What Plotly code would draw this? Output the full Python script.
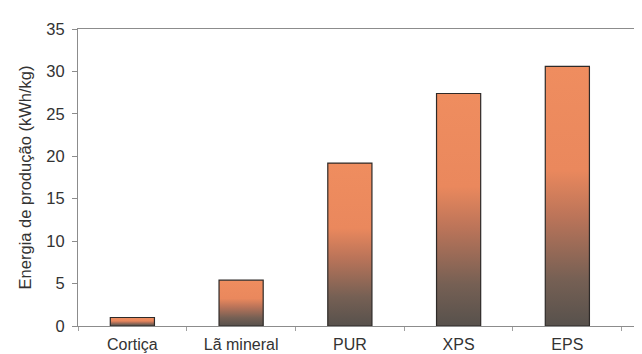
import plotly.graph_objects as go

categories = ["Cortiça", "Lã mineral", "PUR", "XPS", "EPS"]
values = [1.0, 5.4, 19.2, 27.4, 30.6]
y_ticks = [0, 5, 10, 15, 20, 25, 30, 35]
y_title = "Energia de produção (kWh/kg)"

half_w = 0.203
gradient = [
    [0.0, "#57514c"],
    [0.18, "#766054"],
    [0.42, "#bb7459"],
    [0.6, "#ea885d"],
    [1.0, "#ef8d5f"],
]

fig = go.Figure()
for i, (cat, v) in enumerate(zip(categories, values)):
    xs = [i - half_w, i + half_w, i + half_w, i - half_w, i - half_w]
    ys = [0, 0, v, v, 0]
    fig.add_trace(go.Scatter(
        x=xs, y=ys, mode="lines", fill="toself",
        fillgradient=dict(type="vertical", colorscale=gradient),
        line=dict(color="#2e2a28", width=1.2),
        name=cat, showlegend=False, hoverinfo="skip",
    ))

family = "Liberation Sans, Arial, sans-serif"
tick_font = dict(family=family, size=16.5, color="#333333")
cat_font = dict(family=family, size=16, color="#333333")
title_font = dict(family=family, size=16.5, color="#333333")

fig.update_layout(
    width=642, height=354,
    margin=dict(l=70, r=0, t=21, b=36),
    paper_bgcolor="white", plot_bgcolor="white",
    font=tick_font,
    xaxis=dict(
        range=[-0.5, 4.76], automargin=False,
        tickmode="array", tickvals=list(range(len(categories))), ticktext=categories,
        showgrid=False, zeroline=False,
        showline=True, linecolor="#8c8c8c", linewidth=1.2, mirror=True,
        ticks="", ticklabelstandoff=4,
        minor=dict(tick0=0.5, dtick=1, ticks="outside", ticklen=4, tickcolor="#a0a0a0"),
        tickfont=cat_font,
    ),
    yaxis=dict(
        range=[0, 35], tickvals=y_ticks, automargin=False,
        showgrid=False, zeroline=False,
        showline=True, linecolor="#8c8c8c", linewidth=1.2,
        ticks="outside", ticklen=5, tickcolor="#8c8c8c", ticklabelstandoff=4,
        title=dict(text=y_title, font=title_font, standoff=10),
        tickfont=tick_font,
    ),
)

fig.write_html("out.html")
